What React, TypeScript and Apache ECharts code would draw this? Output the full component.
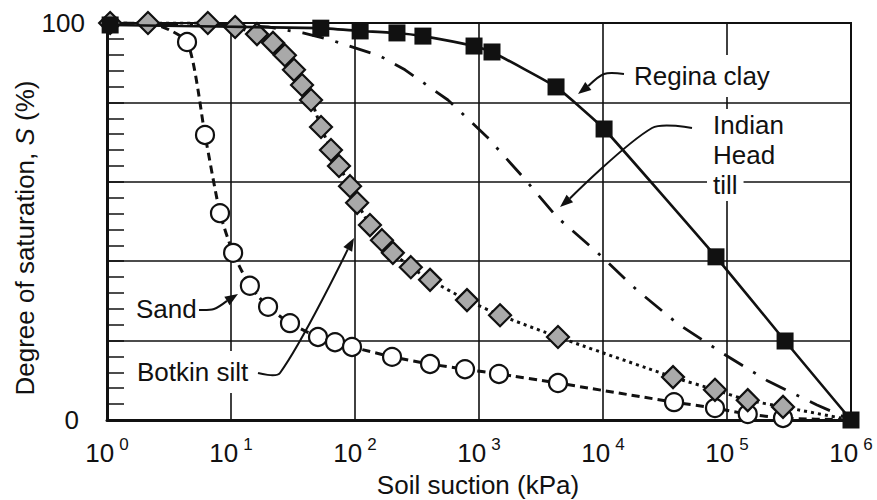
import React, { useEffect, useRef } from "react";
import * as echarts from "echarts";

// ---- data (suction in kPa, degree of saturation in %) ----
const reginaSuction = [1.06, 53, 110, 218, 353, 912, 1273, 4180, 10200, 81500, 294000, 1000000];
const reginaSat = [99.5, 98.7, 98.0, 97.5, 96.7, 94.2, 92.7, 83.9, 73.3, 41.1, 19.9, 0];

const indianSuction = [1, 10, 20, 38, 64, 159, 253, 562, 1161, 2264, 4256, 8930, 18800, 39500, 91200, 214000, 532000, 1000000];
const indianSat = [100, 99.6, 99.0, 97.5, 95.7, 91.7, 88.2, 80.6, 71.3, 61.2, 51.1, 42.3, 32.7, 24.4, 16.9, 9.8, 3.8, 0];

const botkinSuction = [1.06, 2.14, 6.5, 10.8, 16.2, 21.8, 27.2, 32.2, 37.4, 44.2, 53.2, 64.0, 74.3, 91.2, 104, 132, 165, 202, 282, 403, 800, 1478, 4335, 36700, 80000, 147000, 283000, 1000000];
const botkinSat = [100, 100, 100, 99.0, 97.2, 95.0, 91.9, 88.2, 84.4, 80.6, 73.8, 68.0, 64.0, 58.9, 54.7, 49.1, 45.3, 42.1, 38.5, 35.3, 30.2, 26.4, 20.9, 10.8, 7.6, 5.0, 3.3, 0];

const sandSuction = [1.06, 2.14, 4.42, 6.17, 8.15, 10.4, 14.2, 19.9, 29.9, 50.3, 69.0, 94.6, 199, 403, 771, 1449, 4335, 37400, 80000, 147000, 283000, 1000000];
const sandSat = [100, 100, 95.2, 71.8, 52.1, 42.1, 33.8, 28.5, 24.4, 20.9, 19.6, 18.4, 15.9, 14.1, 12.8, 11.6, 9.3, 4.5, 3.0, 1.5, 0.5, 0];
const sandHidden = [0, 1, 21];

const yLabels = [0, 100];
const xTitle = "Soil suction (kPa)";
const yTitleMain = "Degree of saturation, ";
const yTitleVar = "S";
const yTitleUnit = " (%)";

const FONT = "Liberation Sans, Arial, Helvetica, sans-serif";

function pairs(xs: number[], ys: number[], hidden: number[] = []) {
  return xs.map((x, i) =>
    hidden.includes(i) ? { value: [x, ys[i]], symbol: "none" } : { value: [x, ys[i]] }
  );
}

function leader(points: number[][]) {
  const n = points.length;
  const tip = points[n - 1];
  const prev = points[n - 2];
  const dx = tip[0] - prev[0];
  const dy = tip[1] - prev[1];
  const len = Math.sqrt(dx * dx + dy * dy);
  const ux = dx / len;
  const uy = dy / len;
  const L = 13;
  const W = 5;
  const bx = tip[0] - ux * L;
  const by = tip[1] - uy * L;
  const head = [
    [tip[0], tip[1]],
    [bx - uy * W, by + ux * W],
    [bx + uy * W, by - ux * W],
  ];
  const linePts = points.slice(0, n - 1).concat([[bx, by]]);
  return [
    {
      type: "polyline",
      z: 20,
      shape: { points: linePts, smooth: 0.3 },
      style: { stroke: "#111", lineWidth: 2, fill: null },
    },
    {
      type: "polygon",
      z: 20,
      shape: { points: head },
      style: { fill: "#111" },
    },
  ];
}

function label(text: string, x: number, y: number, pad: number[]) {
  return {
    type: "text",
    z: 15,
    x,
    y,
    style: {
      text,
      fill: "#111",
      font: `26px ${FONT}`,
      align: "left",
      verticalAlign: "middle",
      backgroundColor: "#fff",
      padding: pad,
    },
  };
}

export default function App() {
  const ref = useRef<HTMLDivElement>(null);

  useEffect(() => {
    if (!ref.current) return;
    const chart = echarts.init(ref.current, null, { renderer: "svg" });

    const option: any = {
      animation: false,
      backgroundColor: "#fff",
      grid: {
        left: 107,
        right: 26,
        top: 23,
        bottom: 80,
        show: true,
        borderColor: "#111",
        borderWidth: 2,
        backgroundColor: "transparent",
      },
      xAxis: {
        type: "log",
        logBase: 10,
        min: 1,
        max: 1000000,
        splitNumber: 6,
        axisLine: { show: true, lineStyle: { color: "#111", width: 3 } },
        axisTick: { show: false },
        splitLine: { show: true, lineStyle: { color: "#111", width: 1.6 } },
        axisLabel: {
          margin: 16,
          color: "#111",
          hideOverlap: false,
          formatter: (v: number) => {
            const e = Math.round(Math.log10(v));
            return `{b|10}{s|${e}}`;
          },
          rich: {
            b: { fontSize: 26, fontFamily: FONT, color: "#111", lineHeight: 30, verticalAlign: "bottom" },
            s: { fontSize: 17, fontFamily: FONT, color: "#111", lineHeight: 17, verticalAlign: "top", padding: [0, 0, 0, 5] },
          },
        },
      },
      yAxis: {
        type: "value",
        min: 0,
        max: 100,
        interval: 20,
        axisLine: { show: true, lineStyle: { color: "#111", width: 3 } },
        axisTick: { show: true, inside: true, length: 17, lineStyle: { color: "#111", width: 1.5 } },
        minorTick: { show: true, splitNumber: 5, length: 17, lineStyle: { color: "#111", width: 1.5 } },
        splitLine: { show: true, lineStyle: { color: "#111", width: 1.6 } },
        axisLabel: {
          margin: 22,
          color: "#111",
          fontSize: 26,
          fontFamily: FONT,
          formatter: (v: number) => {
            if (!yLabels.includes(v)) return "";
            return v === 0 ? `{z|${v}}` : `${v}`;
          },
          rich: {
            z: { fontSize: 26, fontFamily: FONT, color: "#111", padding: [0, 6, 0, 0] },
          },
        },
      },
      series: [
        {
          name: "Sand",
          type: "line",
          z: 3,
          smooth: 0.2,
          data: pairs(sandSuction, sandSat, sandHidden),
          symbol: "circle",
          symbolSize: 18,
          lineStyle: { color: "#111", width: 3, type: [8, 5] },
          itemStyle: { color: "#fff", borderColor: "#111", borderWidth: 2.2 },
        },
        {
          name: "Indian Head till",
          type: "line",
          z: 4,
          smooth: false,
          data: pairs(indianSuction, indianSat),
          symbol: "none",
          lineStyle: { color: "#111", width: 2.8, type: [22, 12, 3, 12] },
        },
        {
          name: "Botkin silt",
          type: "line",
          z: 5,
          smooth: 0.15,
          data: pairs(botkinSuction, botkinSat, [botkinSuction.length - 1]),
          symbol: "diamond",
          symbolSize: 22,
          lineStyle: { color: "#111", width: 3, type: [3, 4] },
          itemStyle: { color: "#a9a9a9", borderColor: "#111", borderWidth: 2.2 },
        },
        {
          name: "Regina clay",
          type: "line",
          z: 6,
          smooth: 0.12,
          data: pairs(reginaSuction, reginaSat),
          symbol: "rect",
          symbolSize: 17,
          lineStyle: { color: "#111", width: 2.6, type: "solid" },
          itemStyle: { color: "#111", borderColor: "#111", borderWidth: 0 },
        },
      ],
      graphic: [
        {
          type: "text",
          z: 15,
          x: 478,
          y: 485,
          style: { text: xTitle, fill: "#111", font: `26px ${FONT}`, align: "center", verticalAlign: "middle" },
        },
        {
          type: "text",
          z: 15,
          x: 25,
          y: 238,
          rotation: Math.PI / 2,
          style: {
            text: `{n|${yTitleMain}}{i|${yTitleVar}}{n|${yTitleUnit}}`,
            align: "center",
            verticalAlign: "middle",
            rich: {
              n: { fontSize: 26, fontFamily: FONT, fill: "#111" },
              i: { fontSize: 26, fontFamily: FONT, fontStyle: "italic", fill: "#111" },
            },
          },
        },
        label("Regina clay", 630, 76, [8, 6, 8, 4]),
        label("Indian", 707, 125, [4, 6, 2, 6]),
        label("Head", 707, 155, [2, 6, 2, 6]),
        label("till", 707, 185, [2, 6, 4, 6]),
        label("Sand", 132, 309, [4, 4, 4, 4]),
        label("Botkin silt", 133, 372, [8, 6, 8, 4]),
        ...leader([[624, 74], [604, 74], [578, 94]]),
        ...leader([[692, 128], [652, 128], [560, 207]]),
        ...leader([[199, 310], [214, 309], [238, 294]]),
        ...leader([[258, 373], [280, 373], [354, 238]]),
      ],
    };

    chart.setOption(option);
    return () => chart.dispose();
  }, []);

  return (
    <div
      ref={ref}
      style={{ position: "fixed", left: 0, top: 0, width: 877, height: 500 }}
    />
  );
}
